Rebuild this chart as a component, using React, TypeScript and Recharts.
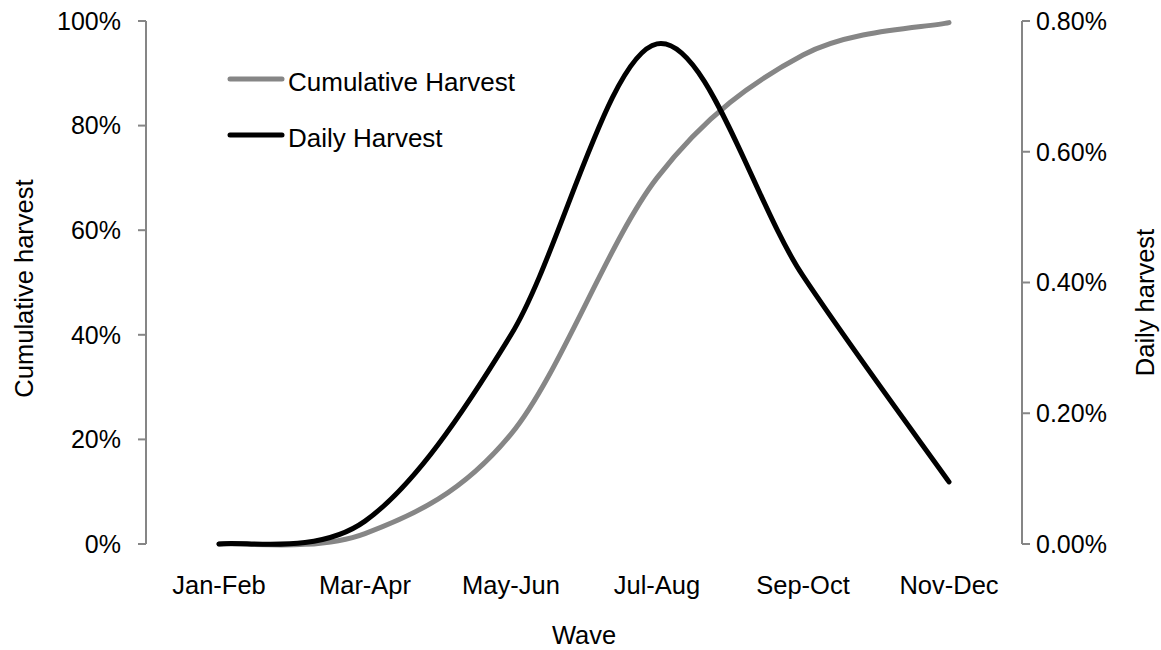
import { LineChart, Line, XAxis, YAxis, Legend, Label } from 'recharts';

const categories = ['Jan-Feb', 'Mar-Apr', 'May-Jun', 'Jul-Aug', 'Sep-Oct', 'Nov-Dec'];
const cumulativeHarvest = [0, 2, 21, 70, 93.5, 99.7];
const dailyHarvest = [0, 0.035, 0.32, 0.765, 0.41, 0.095];
const leftTicks = [0, 20, 40, 60, 80, 100];
const rightTicks = [0, 0.2, 0.4, 0.6, 0.8];

const FONT = '"Liberation Sans", Arial, sans-serif';
const AXIS = '#868686';

const data = categories.map((c, i) => ({
  pos: i + 0.5,
  label: c,
  cumulative: cumulativeHarvest[i],
  daily: dailyHarvest[i],
}));

// Excel style smoothed line (catmull-rom like bezier, 1/6 of neighbour distance)
function excelSmooth(context: any) {
  let pts: number[][] = [];
  return {
    areaStart() {},
    areaEnd() {},
    lineStart() {
      pts = [];
    },
    point(x: number, y: number) {
      pts.push([+x, +y]);
    },
    lineEnd() {
      const n = pts.length;
      if (!n) return;
      context.moveTo(pts[0][0], pts[0][1]);
      for (let i = 0; i < n - 1; i++) {
        const p0 = pts[Math.max(i - 1, 0)];
        const p1 = pts[i];
        const p2 = pts[i + 1];
        const p3 = pts[Math.min(i + 2, n - 1)];
        context.bezierCurveTo(
          p1[0] + (p2[0] - p0[0]) / 6,
          p1[1] + (p2[1] - p0[1]) / 6,
          p2[0] - (p3[0] - p1[0]) / 6,
          p2[1] - (p3[1] - p1[1]) / 6,
          p2[0],
          p2[1],
        );
      }
    },
  };
}

function LegendBox({ payload }: any) {
  if (!payload) return null;
  return (
    <svg width={330} height={110} style={{ display: 'block' }}>
      {payload.map((p: any, i: number) => (
        <g key={p.value} transform={`translate(0, ${i * 56})`}>
          <line x1={4} x2={56} y1={19} y2={19} stroke={p.color} strokeWidth={5} strokeLinecap="round" />
          <text x={62} y={31} fontSize={26} fontFamily={FONT} fill="#000">
            {p.value}
          </text>
        </g>
      ))}
    </svg>
  );
}

function LeftTitle({ viewBox }: any) {
  const cy = viewBox.y + viewBox.height / 2 + 6;
  return (
    <text x={33} y={cy} transform={`rotate(-90 33 ${cy})`} textAnchor="middle" fontSize={25.5} fontFamily={FONT} fill="#000">
      Cumulative harvest
    </text>
  );
}

function RightTitle({ viewBox }: any) {
  const cy = viewBox.y + viewBox.height / 2 + 20;
  const x = viewBox.x + viewBox.width - 7;
  return (
    <text x={x} y={cy} transform={`rotate(-90 ${x} ${cy})`} textAnchor="middle" fontSize={25.5} fontFamily={FONT} fill="#000">
      Daily harvest
    </text>
  );
}

export default function App() {
  const tickStyle = { fill: '#000', fontSize: 25, fontFamily: FONT };
  const xTickStyle = { fill: '#000', fontSize: 25.5, fontFamily: FONT };
  return (
    <div style={{ position: 'absolute', left: 0, top: 0, background: '#fff' }}>
      <LineChart width={1161} height={650} data={data} margin={{ top: 21, right: 0, bottom: 0, left: 0 }}>
        <XAxis
          xAxisId="frame"
          dataKey="pos"
          type="number"
          domain={[0, 6]}
          ticks={[0, 1, 2, 3, 4, 5, 6]}
          height={0}
          tick={false}
          stroke={AXIS}
          strokeWidth={2}
          tickSize={8}
        />
        <XAxis
          xAxisId="labels"
          dataKey="pos"
          type="number"
          domain={[0, 6]}
          ticks={data.map((d) => d.pos)}
          tickFormatter={(v) => categories[Math.floor(v)]}
          height={106}
          axisLine={false}
          tickLine={false}
          tick={xTickStyle}
          tickSize={8}
          tickMargin={24}
        >
          <Label value="Wave" position="insideBottom" offset={6} style={{ fontSize: 25.5, fontFamily: FONT, fill: '#000' }} />
        </XAxis>
        <YAxis
          yAxisId="left"
          width={146}
          domain={[0, 100]}
          ticks={leftTicks}
          tickFormatter={(v) => `${v}%`}
          stroke={AXIS}
          strokeWidth={2}
          tick={tickStyle}
          tickSize={8}
          tickMargin={17}
        >
          <Label content={<LeftTitle />} />
        </YAxis>
        <YAxis
          yAxisId="right"
          orientation="right"
          width={139}
          domain={[0, 0.8]}
          ticks={rightTicks}
          tickFormatter={(v) => `${v.toFixed(2)}%`}
          stroke={AXIS}
          strokeWidth={2}
          tick={tickStyle}
          tickSize={8}
          tickMargin={6}
        >
          <Label content={<RightTitle />} />
        </YAxis>
        <Legend
          layout="vertical"
          align="center"
          verticalAlign="middle"
          content={<LegendBox />}
          wrapperStyle={{ position: 'absolute', left: 226, top: 60, width: 330, height: 110 }}
        />
        <Line
          xAxisId="frame"
          yAxisId="left"
          dataKey="cumulative"
          name="Cumulative Harvest"
          type={excelSmooth as any}
          stroke="#868686"
          strokeWidth={5}
          strokeLinecap="round"
          dot={false}
          activeDot={false}
          isAnimationActive={false}
        />
        <Line
          xAxisId="frame"
          yAxisId="right"
          dataKey="daily"
          name="Daily Harvest"
          type={excelSmooth as any}
          stroke="#000"
          strokeWidth={5}
          strokeLinecap="round"
          dot={false}
          activeDot={false}
          isAnimationActive={false}
        />
      </LineChart>
    </div>
  );
}
